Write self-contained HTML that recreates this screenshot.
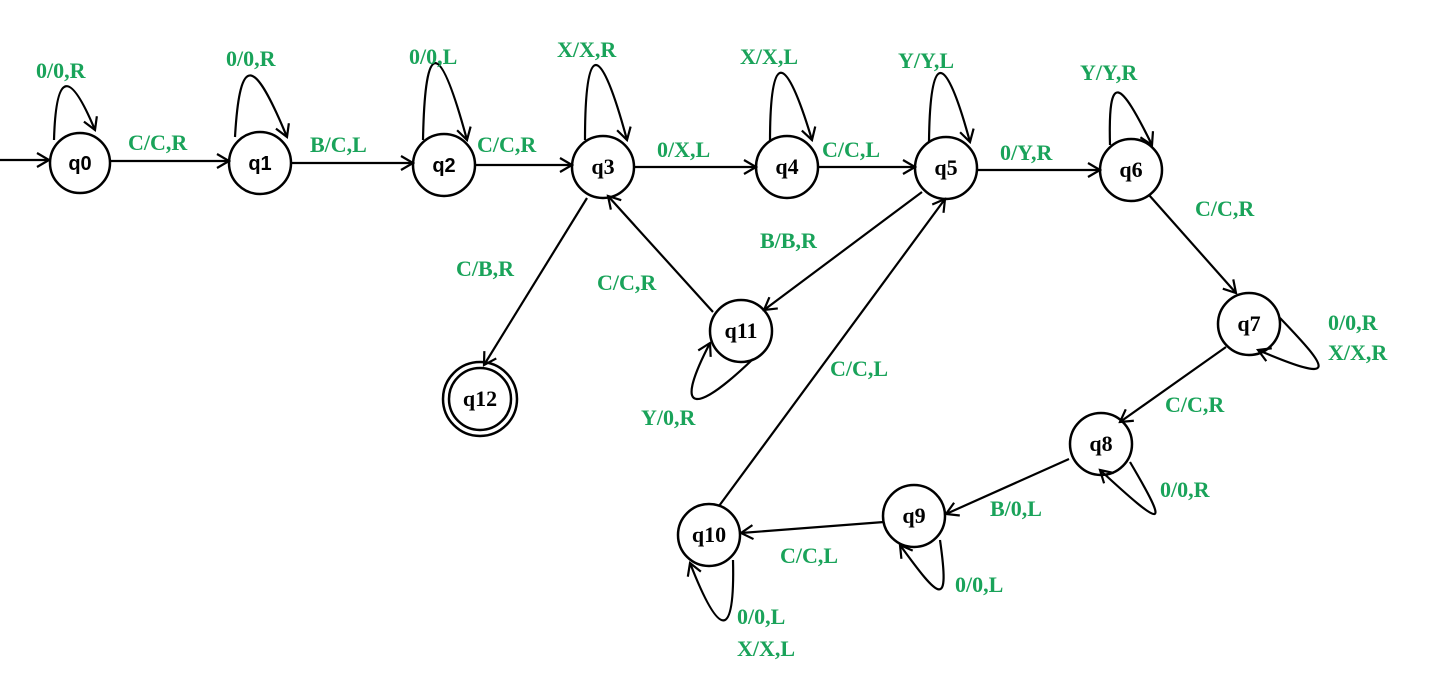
<!DOCTYPE html>
<html><head><meta charset="utf-8"><style>
html,body{margin:0;padding:0;background:#fff;}
svg{display:block}
.l{font-family:"Liberation Serif",serif;font-weight:bold;font-size:22px;fill:#1aa35a}
.n{font-family:"Liberation Serif",serif;font-weight:bold;font-size:22px;fill:#000;text-anchor:middle}
.s{font-family:"Liberation Sans",sans-serif;font-weight:bold;font-size:20px;fill:#000;text-anchor:middle}
</style></head><body>
<svg width="1434" height="681" viewBox="0 0 1434 681" xmlns="http://www.w3.org/2000/svg">
<defs>
<marker id="a" markerWidth="16" markerHeight="16" refX="14" refY="8" orient="auto" markerUnits="userSpaceOnUse">
<path d="M2,1 L14,8 L2,15" fill="none" stroke="#000" stroke-width="2.2"/>
</marker>
</defs>
<g fill="none" stroke="#000" stroke-width="2.5">
<circle cx="80" cy="163" r="30"/>
<circle cx="260" cy="163" r="31"/>
<circle cx="444" cy="165" r="31"/>
<circle cx="603" cy="167" r="31"/>
<circle cx="787" cy="167" r="31"/>
<circle cx="946" cy="168" r="31"/>
<circle cx="1131" cy="170" r="31"/>
<circle cx="1249" cy="324" r="31"/>
<circle cx="1101" cy="444" r="31"/>
<circle cx="914" cy="516" r="31"/>
<circle cx="709" cy="535" r="31"/>
<circle cx="741" cy="331" r="31"/>
<circle cx="480" cy="399" r="37"/>
<circle cx="480" cy="399" r="31"/>
</g>
<g fill="none" stroke="#000" stroke-width="2.2" marker-end="url(#a)">
<line x1="0" y1="160" x2="49" y2="160"/>
<line x1="111" y1="161" x2="229" y2="161"/>
<line x1="291" y1="163" x2="413" y2="163"/>
<line x1="475" y1="165" x2="572" y2="165"/>
<line x1="634" y1="167" x2="756" y2="167"/>
<line x1="818" y1="167" x2="915" y2="167"/>
<line x1="977" y1="170" x2="1100" y2="170"/>
<line x1="1149" y1="195" x2="1236" y2="293"/>
<line x1="1226" y1="347" x2="1120" y2="422"/>
<line x1="1069" y1="459" x2="946" y2="514"/>
<line x1="884" y1="522" x2="741" y2="533"/>
<line x1="719" y1="506" x2="945" y2="199"/>
<line x1="922" y1="192" x2="764" y2="310"/>
<line x1="713" y1="312" x2="608" y2="196"/>
<line x1="587" y1="198" x2="484" y2="365"/>
<path d="M54,140 C56,70 70,70 95,130"/>
<path d="M235,137 C240,50 255,60 287,137"/>
<path d="M423,140 C425,35 440,40 467,140"/>
<path d="M585,140 C585,40 600,40 627,140"/>
<path d="M770,142 C770,50 785,50 812,140"/>
<path d="M929,142 C930,50 945,50 970,142"/>
<path d="M1110,145 C1108,70 1120,80 1152,145"/>
<path d="M1280,318 C1330,370 1340,385 1258,350"/>
<path d="M1130,462 C1170,530 1165,530 1100,470"/>
<path d="M940,540 C950,610 940,600 900,545"/>
<path d="M733,560 C735,640 720,640 690,563"/>
<path d="M753,359 C700,410 670,420 710,343"/>
</g>
<text class="s" x="80" y="170">q0</text>
<text class="s" x="260" y="170">q1</text>
<text class="s" x="444" y="172">q2</text>
<text class="n" x="603" y="174">q3</text>
<text class="n" x="787" y="174">q4</text>
<text class="n" x="946" y="175">q5</text>
<text class="n" x="1131" y="177">q6</text>
<text class="n" x="1249" y="331">q7</text>
<text class="n" x="1101" y="451">q8</text>
<text class="n" x="914" y="523">q9</text>
<text class="n" x="709" y="542">q10</text>
<text class="n" x="741" y="338">q11</text>
<text class="n" x="480" y="406">q12</text>
<text class="l" x="36" y="78">0/0,R</text>
<text class="l" x="128" y="150">C/C,R</text>
<text class="l" x="226" y="66">0/0,R</text>
<text class="l" x="310" y="152">B/C,L</text>
<text class="l" x="409" y="64">0/0,L</text>
<text class="l" x="477" y="152">C/C,R</text>
<text class="l" x="557" y="57">X/X,R</text>
<text class="l" x="657" y="157">0/X,L</text>
<text class="l" x="740" y="64">X/X,L</text>
<text class="l" x="822" y="157">C/C,L</text>
<text class="l" x="898" y="68">Y/Y,L</text>
<text class="l" x="1000" y="160">0/Y,R</text>
<text class="l" x="1080" y="80">Y/Y,R</text>
<text class="l" x="1195" y="216">C/C,R</text>
<text class="l" x="1328" y="330">0/0,R</text>
<text class="l" x="1328" y="360">X/X,R</text>
<text class="l" x="1165" y="412">C/C,R</text>
<text class="l" x="1160" y="497">0/0,R</text>
<text class="l" x="990" y="516">B/0,L</text>
<text class="l" x="780" y="563">C/C,L</text>
<text class="l" x="955" y="592">0/0,L</text>
<text class="l" x="737" y="624">0/0,L</text>
<text class="l" x="737" y="656">X/X,L</text>
<text class="l" x="830" y="376">C/C,L</text>
<text class="l" x="760" y="248">B/B,R</text>
<text class="l" x="597" y="290">C/C,R</text>
<text class="l" x="641" y="425">Y/0,R</text>
<text class="l" x="456" y="276">C/B,R</text>
</svg>
</body></html>
